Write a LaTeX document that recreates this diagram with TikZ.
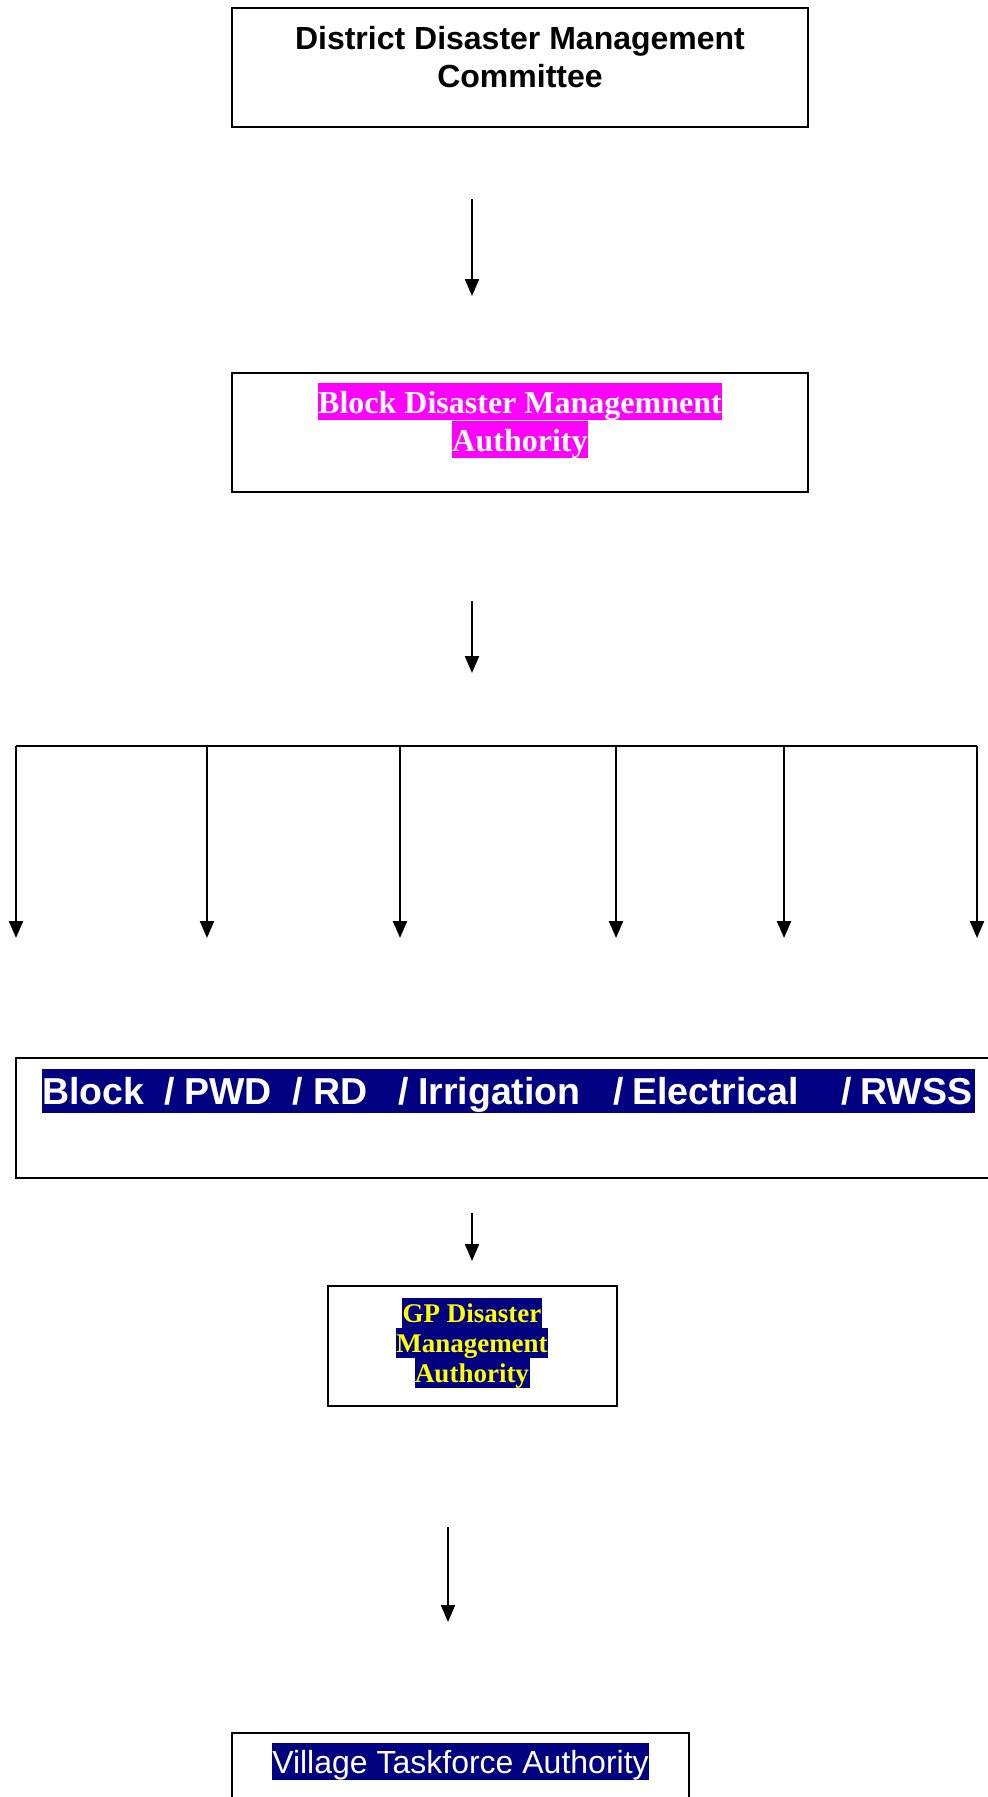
\documentclass[tikz,border=0pt]{standalone}
\usepackage{fontspec}
\setmainfont{Liberation Serif}
\newfontfamily\arialfont{Liberation Sans}
\usetikzlibrary{arrows.meta}
\definecolor{navyhl}{HTML}{000080}
\definecolor{magentahl}{HTML}{FF00FF}
\definecolor{yellowtx}{HTML}{FFFF00}
\begin{document}
\begin{tikzpicture}[x=1pt,y=-1pt,
  boxframe/.style={draw=black, line width=2pt, inner sep=0pt, rectangle},
  flowarrow/.style={line width=2.2pt, -{Triangle[length=17pt,width=14pt]}},
  plainline/.style={line width=2.2pt},
  darktext/.style={anchor=base, inner sep=0pt, font=\arialfont\bfseries\fontsize{32}{32}\selectfont},
  hlmag/.style={anchor=base, fill=magentahl, text=white, inner xsep=0.5pt, inner ysep=0pt,
     text height=30pt, text depth=7pt, font=\bfseries\fontsize{32}{32}\selectfont},
  hlnavyA/.style={anchor=base west, fill=navyhl, text=white, inner xsep=0pt, inner ysep=0pt,
     text height=35pt, text depth=9pt, font=\arialfont\bfseries\fontsize{37.5}{37.5}\selectfont},
  hlnavyB/.style={anchor=base, fill=navyhl, text=yellowtx, inner xsep=0.5pt, inner ysep=0pt,
     text height=24pt, text depth=6pt, font=\bfseries\fontsize{27}{27}\selectfont},
  hlnavyC/.style={anchor=base, fill=navyhl, text=white, inner xsep=0.5pt, inner ysep=0pt,
     text height=30pt, text depth=7pt, font=\arialfont\fontsize{32}{32}\selectfont}
]
\useasboundingbox (0,0) rectangle (988,1797);
\clip (0,0) rectangle (988,1797);
\fill[white] (0,0) rectangle (988,1797);

% boxes
\node[boxframe, minimum width=576pt, minimum height=119pt] (b1) at (520,67.5) {};
\node[boxframe, minimum width=576pt, minimum height=119pt] (b2) at (520,432.5) {};
\node[boxframe, minimum width=994pt, minimum height=120pt] (b3) at (513,1118) {};
\node[boxframe, minimum width=289pt, minimum height=120pt] (b4) at (472.5,1346) {};
\node[boxframe, minimum width=457pt, minimum height=120pt] (b5) at (460.5,1793) {};

% texts
\node[darktext] (t1a) at (520,49.5) {District Disaster Management};
\node[darktext] (t1b) at (520,87.5) {Committee};

\node[hlmag] (t2a) at (520,413) {Block Disaster Managemnent};
\node[hlmag] (t2b) at (520,451) {Authority};

\node[hlnavyA] (t3) at (42,1104) {\makebox[122pt][l]{Block}\makebox[20pt][l]{/}\makebox[108pt][l]{PWD}\makebox[21pt][l]{/}\makebox[85pt][l]{RD}\makebox[20pt][l]{/}\makebox[195pt][l]{Irrigation}\makebox[19pt][l]{/}\makebox[209pt][l]{Electrical}\makebox[19pt][l]{/}\makebox[115pt][l]{RWSS}};

\node[hlnavyB] (t4a) at (472,1322) {GP Disaster};
\node[hlnavyB] (t4b) at (472,1352) {Management};
\node[hlnavyB] (t4c) at (472,1382) {Authority};

\node[hlnavyC] (t5) at (460.5,1773) {Village Taskforce Authority};

% arrows
\coordinate (a1s) at (472,199);
\coordinate (a1e) at (472,296);
\draw[flowarrow] (a1s) -- (a1e);

\coordinate (a2s) at (472,601);
\coordinate (a2e) at (472,673);
\draw[flowarrow] (a2s) -- (a2e);

\foreach \i/\xx in {1/16,2/207,3/400,4/616,5/784,6/977}{
  \coordinate (bt\i) at (\xx,746);
  \coordinate (bb\i) at (\xx,938);
}
\draw[plainline] (bt1) -- (bt6);
\foreach \i in {1,...,6}{
  \draw[flowarrow] (bt\i) -- (bb\i);
}

\coordinate (a3s) at (472,1213);
\coordinate (a3e) at (472,1261);
\draw[flowarrow] (a3s) -- (a3e);

\coordinate (a4s) at (448,1527);
\coordinate (a4e) at (448,1622);
\draw[flowarrow] (a4s) -- (a4e);
\end{tikzpicture}
\end{document}
